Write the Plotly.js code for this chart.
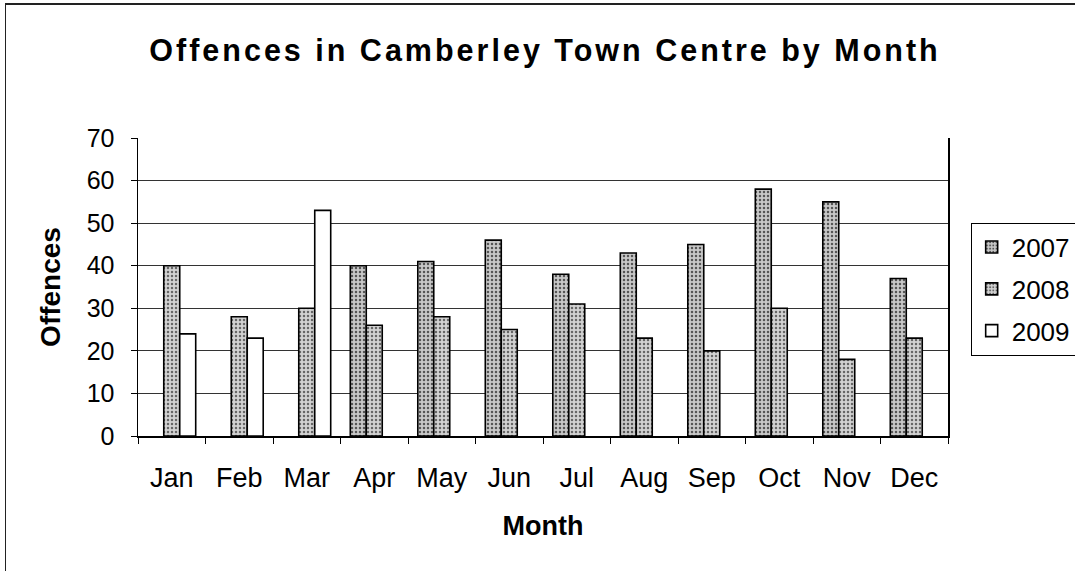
<!DOCTYPE html>
<html>
<head>
<meta charset="utf-8">
<script src="https://cdn.plot.ly/plotly-3.0.1.min.js"></script>
<style>
html,body{margin:0;padding:0;background:#fff;}
#wrap{position:relative;width:1075px;height:571px;overflow:hidden;}
#chart{width:1075px;height:571px;}
#frame{position:absolute;left:5px;top:3px;width:1075px;height:571px;border-left:1px solid #222;border-top:2px solid #222;pointer-events:none;}
.gtitle{letter-spacing:3px;}
</style>
</head>
<body>
<div id="wrap">
<div id="chart"></div>
<div id="frame"></div>
</div>
<script>
const months = ['Jan','Feb','Mar','Apr','May','Jun','Jul','Aug','Sep','Oct','Nov','Dec'];
const v2007 = [null,null,null,40,41,46,38,43,45,58,55,37];
const v2008 = [40,28,30,26,28,25,31,23,20,30,18,23];
const v2009 = [24,23,53,null,null,null,null,null,null,null,null,null];
const yTicks = [0,10,20,30,40,50,60,70];

const font = "'Liberation Sans', Arial, sans-serif";
function bar(name, y, bg, fg) {
  return {
    type: 'bar', name: name, x: months, y: y, legendgroup: 'g' + name,
    marker: {
      color: bg,
      line: {color: '#000', width: 1.6},
      pattern: fg ? {shape: '.', fgcolor: fg, bgcolor: bg, size: 4, solidity: 0.3} : undefined
    },
    hoverinfo: 'x+y+name'
  };
}
const data = [
  bar('2007', v2007, '#c8c8c8', '#555'),
  bar('2008', v2008, '#d2d2d2', '#666'),
  bar('2009', v2009, '#ffffff', null)
];
const layout = {
  width: 1075, height: 571,
  margin: {l: 138, r: 127, t: 138, b: 135, autoexpand: false},
  paper_bgcolor: '#fff', plot_bgcolor: '#fff',
  font: {family: font, color: '#000', size: 26},
  title: {text: '<b>Offences in Camberley Town Centre by Month</b>', font: {family: font, size: 30.5, color: '#000'}, x: 0.507, xanchor: 'center', y: 0.912, yanchor: 'middle'},
  barmode: 'group', bargap: 0.29, bargroupgap: 0,
  showlegend: true,
  legend: {x: 1.028, xanchor: 'left', y: 0.716, yanchor: 'top', bordercolor: '#000', borderwidth: 1, bgcolor: '#fff', font: {size: 26, family: font}, tracegroupgap: 5, itemwidth: 30},
  xaxis: {
    type: 'category', showline: true, linecolor: '#000', linewidth: 1.5,
    ticks: 'outside', tickson: 'boundaries', ticklen: 6, tickcolor: '#000', tickwidth: 1,
    ticklabelstandoff: 17,
    tickfont: {size: 27, family: font},
    title: {text: '<b>Month</b>', font: {size: 27, family: font}, standoff: 24},
    showgrid: false, zeroline: false
  },
  yaxis: {
    range: [0, 70], tickvals: yTicks, ticktext: yTicks.map(String),
    showline: true, linecolor: '#000', linewidth: 1.5, mirror: true,
    ticks: 'outside', ticklen: 6, tickcolor: '#000', tickwidth: 1,
    ticklabelstandoff: 11,
    tickfont: {size: 25, family: font},
    showgrid: true, gridcolor: '#333', gridwidth: 1,
    zeroline: false,
    title: {text: '<b>Offences</b>', font: {size: 28, family: font}, standoff: 18}
  }
};
Plotly.newPlot('chart', data, layout, {displayModeBar: false, staticPlot: true});
</script>
</body>
</html>
